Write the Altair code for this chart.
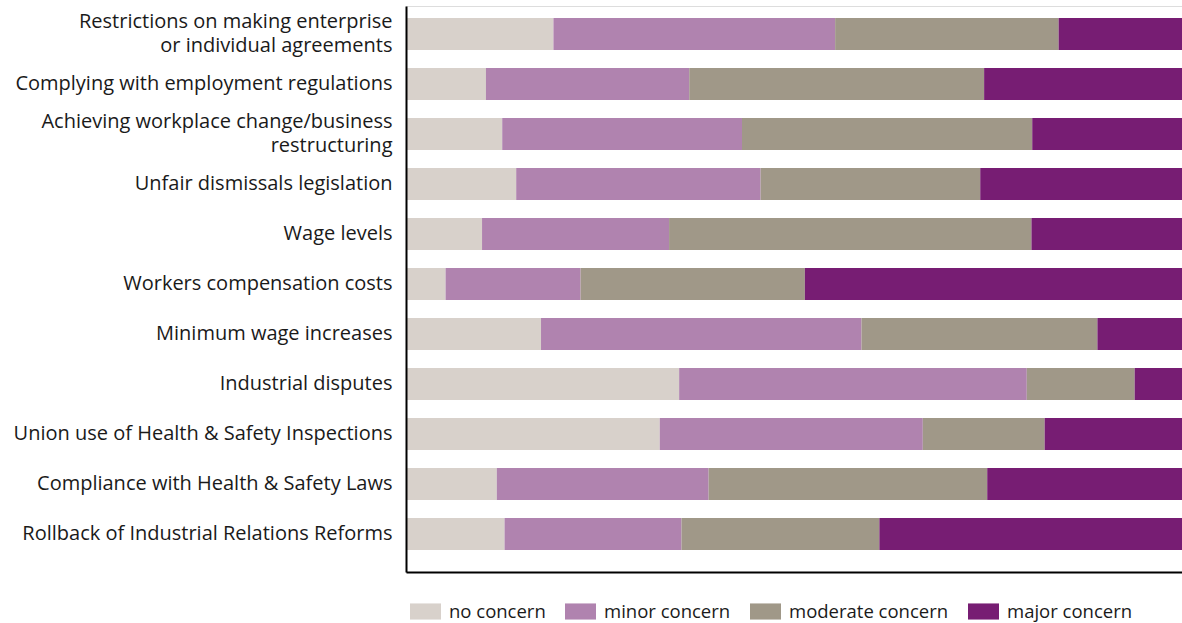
import altair as alt
import pandas as pd

categories = [
    "Restrictions on making enterprise\u00a0|or individual agreements",
    "Complying with employment regulations",
    "Achieving workplace change/business\u00a0|restructuring",
    "Unfair dismissals legislation",
    "Wage levels",
    "Workers compensation costs",
    "Minimum wage increases",
    "Industrial disputes",
    "Union use of Health & Safety Inspections",
    "Compliance with Health & Safety Laws",
    "Rollback of Industrial Relations Reforms",
]
no_concern = [19.0, 10.3, 12.4, 14.2, 9.8, 5.1, 17.4, 35.2, 32.7, 11.7, 12.7]
minor_concern = [36.3, 26.2, 30.9, 31.5, 24.1, 17.4, 41.3, 44.8, 33.9, 27.3, 22.8]
moderate_concern = [28.8, 38.0, 37.4, 28.3, 46.7, 28.9, 30.4, 13.9, 15.7, 35.9, 25.5]
major_concern = [15.9, 25.5, 19.3, 26.0, 19.4, 48.6, 10.9, 6.1, 17.7, 25.1, 39.0]

levels = ["no concern", "minor concern", "moderate concern", "major concern"]
colors = ["#d8d1cb", "#b083af", "#a09888", "#771d73"]

rows = []
for i, cat in enumerate(categories):
    for j, (lvl, vals) in enumerate(zip(levels, [no_concern, minor_concern, moderate_concern, major_concern])):
        rows.append({"category": cat, "level": lvl, "order": j, "value": vals[i]})
df = pd.DataFrame(rows)

FONT = "Open Sans"

chart = alt.Chart(df).mark_bar().encode(
    y=alt.Y(
        "category:N",
        sort=categories,
        title=None,
        scale=alt.Scale(paddingInner=0.36, paddingOuter=0.34, align=0.353),
        axis=alt.Axis(
            labelExpr="split(datum.value, '|')",
            ticks=False,
            labelPadding=14,
            labelFont=FONT,
            labelFontSize=20,
            labelColor="#1a1a1a",
            labelLineHeight=24,
            labelLimit=420,
            labelOffset={"condition": {"test": "indexof(datum.value, '|') >= 0", "value": -12}, "value": 0},
            domainColor="#000000",
            domainWidth=2,
            zindex=1,
        ),
    ),
    x=alt.X(
        "value:Q",
        stack="normalize",
        title=None,
        scale=alt.Scale(domain=[0, 1], nice=False),
        axis=alt.Axis(
            labels=False,
            ticks=False,
            grid=False,
            domainColor="#000000",
            domainWidth=2,
            zindex=1,
        ),
    ),
    color=alt.Color(
        "level:N",
        scale=alt.Scale(domain=levels, range=colors),
        legend=alt.Legend(
            title=None,
            orient="none",
            direction="horizontal",
            legendX=4,
            legendY=590,
            padding=0,
            symbolType="M-1,-0.52H1V0.52H-1Z",
            symbolSize=961,
            symbolStrokeWidth=0,
            symbolOpacity=1,
            labelFont=FONT,
            labelFontSize=18.5,
            labelColor="#1a1a1a",
            labelOffset=8,
            columnPadding=19,
            labelLimit=300,
        ),
    ),
    order=alt.Order("order:Q"),
).properties(
    width=776,
    height=566,
    autosize=alt.AutoSizeParams(type="none"),
    padding={"left": 406, "top": 6, "right": 0, "bottom": 51},
).configure_view(stroke=None).configure(background="white")

chart.save("out.html", embed_options={"renderer": "svg", "actions": False})
